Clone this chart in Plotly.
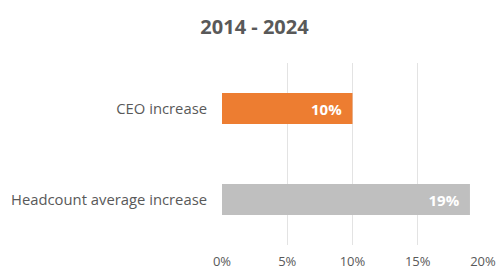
import plotly.graph_objects as go

categories = ["CEO increase", "Headcount average increase"]
values = [10, 19]
bar_colors = ["#ED7D31", "#BFBFBF"]
tick_vals = [0, 5, 10, 15, 20]
tick_text = ["0%", "5%", "10%", "15%", "20%"]
title_text = "2014 - 2024"

FONT = "Open Sans"

fig = go.Figure(go.Bar(
    y=categories,
    x=values,
    orientation="h",
    marker=dict(color=bar_colors, line=dict(width=0)),
    width=0.34,
    text=[f"{v}%\u00a0\u00a0" for v in values],
    textposition="inside",
    insidetextanchor="end",
    textfont=dict(family=FONT, size=15, color="white", weight="bold"),
    cliponaxis=False,
    hoverinfo="skip",
))

fig.update_layout(
    width=499, height=271,
    margin=dict(l=222, r=16, t=63, b=26, autoexpand=False),
    paper_bgcolor="white", plot_bgcolor="white",
    showlegend=False,
    title=dict(text=title_text, x=0.51, xanchor="center", y=0.9, yanchor="middle",
               font=dict(family=FONT, size=20, color="#595959", weight="bold")),
    xaxis=dict(range=[0, 20], tickvals=tick_vals, ticktext=tick_text,
               showgrid=True, gridcolor="#E3E3E3", gridwidth=1,
               zeroline=False, showline=False, automargin=False,
               tickfont=dict(family=FONT, size=13, color="#595959"),
               ticklabelstandoff=7, fixedrange=True),
    yaxis=dict(autorange="reversed", showgrid=False, zeroline=False, showline=False,
               automargin=False,
               tickfont=dict(family=FONT, size=14.8, color="#595959"),
               ticklabelstandoff=14, fixedrange=True),
    bargap=0.66,
)

fig.write_html("out.html", config={"displayModeBar": False, "staticPlot": True},
               post_script="document.body.style.margin='0';")
